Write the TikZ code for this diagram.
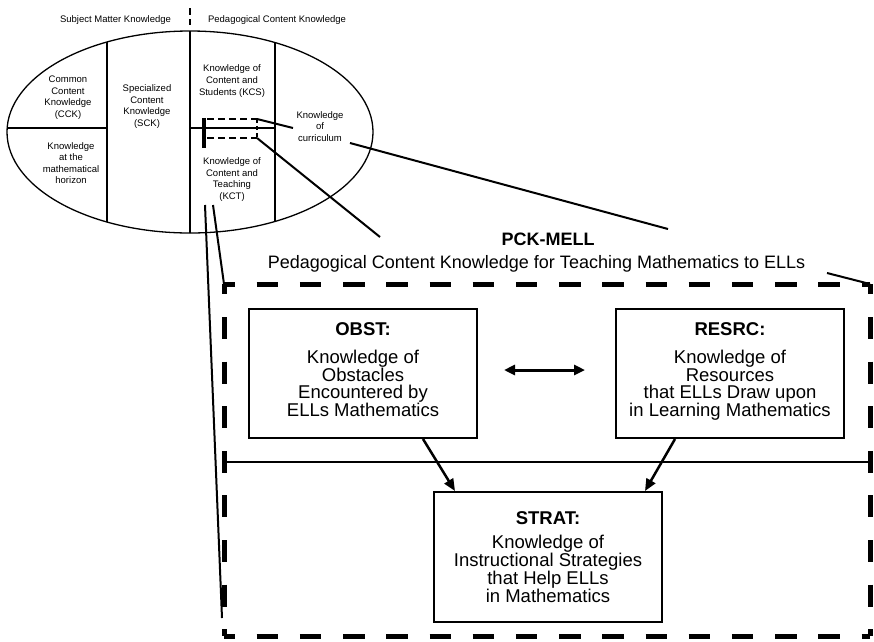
\documentclass[tikz,border=0pt]{standalone}
\usepackage{fontspec}
\setmainfont{Liberation Sans}
\usetikzlibrary{arrows.meta}
\setlength{\lineskiplimit}{-20pt}
\begin{document}
\begin{tikzpicture}[x=1pt,y=-1pt,
  small/.style={font=\fontsize{9.5}{11.6}\selectfont, align=center, inner sep=0pt, text depth=0pt},
  kbox/.style={draw, line width=2pt, minimum width=228pt, minimum height=129pt, align=center, inner sep=0pt,
    font=\fontsize{18.5}{17.7}\selectfont},
  thinline/.style={line width=1.3pt},
  conn/.style={line width=2pt},
  arr/.style={line width=2.5pt, -{Triangle[length=12pt,width=10pt]}},
  hdash/.style={line width=5pt, dash pattern=on 21.5pt off 21.7pt, dash phase=10.5pt},
  vdash/.style={line width=5pt, dash pattern=on 22pt off 22.6pt, dash phase=11.6pt},
]
\useasboundingbox (0,0) rectangle (874,641);

% ---------- ellipse (domains of MKT) ----------
\draw[thinline] (190,132) ellipse [x radius=183pt, y radius=101pt];
\begin{scope}
  \clip (190,132) ellipse [x radius=183pt, y radius=101pt];
  \draw[thinline] (107,0) -- (107,260);
  \draw[thinline] (190,0) -- (190,260);
  \draw[thinline] (275,0) -- (275,260);
  \draw[thinline] (0,128) -- (107,128);
  \draw[thinline] (190,128) -- (275,128);
\end{scope}
\draw[line width=1.5pt, dash pattern=on 7pt off 4pt] (190,8) -- (190,25);

\node[small] (smk)  at (115.5,19) {Subject Matter Knowledge};
\node[small] (pckh) at (277,19) {Pedagogical Content Knowledge};
\node[small] (cck)  at (68,96.5) {Common\\Content\\Knowledge\\(CCK)};
\node[small] (hor)  at (71,163) {Knowledge\\at the\\mathematical\\horizon};
\node[small] (sck)  at (147,105.5) {Specialized\\Content\\Knowledge\\(SCK)};
\node[small] (kcs)  at (232,80) {Knowledge of\\Content and\\Students (KCS)};
\node[small] (kct)  at (232,178.5) {Knowledge of\\Content and\\Teaching\\(KCT)};
\node[small] (cur)  at (320,126.5) {Knowledge\\of\\curriculum};

% small dashed marker
\draw[line width=2pt, dash pattern=on 7pt off 4pt] (207,119) -- (257,119);
\draw[line width=2pt, dash pattern=on 7pt off 4pt] (207,138) -- (257,138);
\draw[line width=3.5pt] (204,118) -- (204,148);
\draw[line width=2pt, dash pattern=on 4pt off 3pt] (257,119) -- (257,138);

% ---------- PCK-MELL frame ----------
\node[inner sep=0pt, outer sep=0pt, minimum width=646pt, minimum height=352pt] (frame) at (547,460) {};
\draw[hdash] (frame.north west) -- (frame.north east);
\draw[hdash] (frame.south west) -- (frame.south east);
\draw[vdash] (frame.north west) -- (frame.south west);
\draw[vdash] (frame.north east) -- (frame.south east);

\node[anchor=base, inner sep=0pt, font=\bfseries\fontsize{18}{18}\selectfont] (title) at (548,245.5) {PCK-MELL};
\node[anchor=base, inner sep=0pt, font=\fontsize{18}{18}\selectfont] (subtitle) at (536.5,268.4)
  {Pedagogical Content Knowledge for Teaching Mathematics to ELLs};

\node[kbox, text depth=8pt] (obst) at (363,373.5)
  {\textbf{OBST:}\\[10.3pt]Knowledge of\\Obstacles\\Encountered by\\ELLs Mathematics};
\node[kbox, text depth=8pt] (resrc) at (730,373.5)
  {\textbf{RESRC:}\\[10.3pt]Knowledge of\\Resources\\that ELLs Draw upon\\in Learning Mathematics};
\node[kbox, minimum height=130pt, text depth=0pt] (strat) at (548,557)
  {\textbf{STRAT:}\\[6.3pt]Knowledge of\\Instructional Strategies\\that Help ELLs\\in Mathematics};

\coordinate (sepy) at (547,462);
\draw[line width=2.5pt] (frame.west |- sepy) -- (frame.east |- sepy);

\draw[line width=3pt, {Triangle[length=11pt,width=10pt]}-{Triangle[length=11pt,width=10pt]}]
  ([xshift=26pt,yshift=3.5pt]obst.east) -- ([xshift=-30pt,yshift=3.5pt]resrc.west);
\draw[arr] ([xshift=60pt]obst.south) -- ([xshift=-93pt]strat.north);
\draw[arr] ([xshift=-55pt]resrc.south) -- ([xshift=97pt]strat.north);

% ---------- zoom connectors ----------
\coordinate (mTR) at (257,119);
\coordinate (mBR) at (257,138);
\coordinate (curL) at (293,128);
\coordinate (curR) at (350,143);
\coordinate (brk1) at (668,229);
\coordinate (brk2) at (827,273);
\coordinate (pckend) at (380,237);
\coordinate (kctA) at (205,205);
\coordinate (kctB) at (213,205);
\coordinate (lowend) at (222,618);

\draw[conn] (mTR) -- (curL);
\draw[conn] (curR) -- (brk1);
\draw[conn] (brk2) -- (frame.north east);
\draw[conn] (mBR) -- (pckend);
\draw[conn] (kctA) -- (lowend);
\draw[conn] (kctB) -- (frame.north west);
\end{tikzpicture}
\end{document}
